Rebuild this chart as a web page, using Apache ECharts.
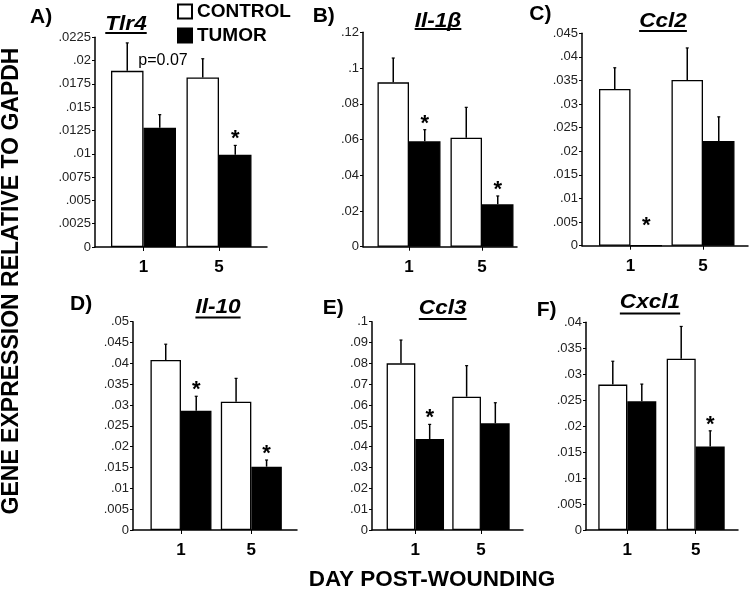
<!DOCTYPE html>
<html>
<head>
<meta charset="utf-8">
<script src="https://cdn.jsdelivr.net/npm/echarts@6/dist/echarts.min.js"></script>
<style>html,body{margin:0;padding:0;background:#fff}#chart{width:750px;height:590px}</style>
</head>
<body>
<div id="chart"></div>
<script>
// ---- data ----
const genes = ['Tlr4', 'Il-1\u03b2', 'Ccl2', 'Il-10', 'Ccl3', 'Cxcl1'];
const panelLetters = ['A)', 'B)', 'C)', 'D)', 'E)', 'F)'];
const days = ['1', '5'];
const seriesNames = ['CONTROL', 'TUMOR'];
const controlMean = [[0.0189, 0.0182], [0.092, 0.061], [0.0332, 0.0351], [0.0408, 0.0308], [0.080, 0.064], [0.028, 0.033]];
const controlErr  = [[0.0030, 0.0020], [0.0136, 0.017], [0.0045, 0.0068], [0.0038, 0.0056], [0.0112, 0.0149], [0.0045, 0.0062]];
const tumorMean   = [[0.0128, 0.0099], [0.059, 0.0237], [0, 0.0222], [0.0286, 0.0152], [0.0437, 0.0512], [0.0248, 0.0161]];
const tumorErr    = [[0.0014, 0.0010], [0.0065, 0.0047], [0, 0.0051], [0.0035, 0.0016], [0.0070, 0.0099], [0.0033, 0.0030]];
const tumorStar   = [[false, true], [true, true], [true, false], [true, true], [true, false], [false, true]];
const yMax  = [0.0225, 0.12, 0.045, 0.05, 0.1, 0.04];
const yStep = [0.0025, 0.02, 0.005, 0.005, 0.01, 0.005];
const yTitle = 'GENE EXPRESSION RELATIVE TO GAPDH';
const xTitle = 'DAY POST-WOUNDING';
const pNote = 'p=0.07';

// ---- layout (pixels) ----
const FONT = "'Liberation Sans', Arial, Helvetica, sans-serif";
const layout = [
  {l: 95,  r: 267, t: 37.3,  b: 247,   il: 105.75, iw: 151,   bw: 32.5, letter: [30, 17.5],  title: [126, 24.5, 32]},
  {l: 363, r: 517, t: 32.3,  b: 246.7, il: 372.5,  iw: 146,   bw: 31.5, letter: [312.7, 16], title: [438, 21.5, 28]},
  {l: 582, r: 748, t: 33.3,  b: 245.7, il: 594.25, iw: 145,   bw: 31.5, letter: [529.3, 14], title: [663, 21.5, 30]},
  {l: 133, r: 297, t: 321.7, b: 530,   il: 145.8,  iw: 140.7, bw: 30.5, letter: [70, 304],   title: [218, 307, 316.5]},
  {l: 372, r: 523, t: 321.7, b: 530,   il: 382.5,  iw: 131.3, bw: 28.7, letter: [322.7, 308],title: [442.7, 308.3, 318]},
  {l: 586, r: 738, t: 322.3, b: 530,   il: 593.1,  iw: 136.8, bw: 29,   letter: [536.7, 310],title: [650, 302.5, 312.5]}
];

const measureCtx = document.createElement('canvas').getContext('2d');
function textWidth(t, font) { measureCtx.font = font; return measureCtx.measureText(t).width; }

function fmt(v) {
  if (v === 0) return '0';
  return (+v.toFixed(6)).toString().replace(/^0\./, '.');
}

const grids = [], xAxes = [], yAxes = [], series = [], graphics = [];
const TITLE_FONT = 'italic bold 20px ' + FONT;
const TITLE_SX = 1.13;

layout.forEach((L, i) => {
  const h = L.b - L.t;
  grids.push({left: L.l, top: L.t, width: L.r - L.l, height: h, containLabel: false});
  grids.push({left: L.il, top: L.t, width: L.iw, height: h, containLabel: false});
  // outer axes
  xAxes.push({gridIndex: 2 * i, type: 'value', min: 0, max: 1,
    axisLine: {show: true, onZero: false, lineStyle: {color: '#000', width: 1.5}},
    axisTick: {show: false}, axisLabel: {show: false}, splitLine: {show: false}});
  yAxes.push({gridIndex: 2 * i, type: 'value', min: 0, max: yMax[i], interval: yStep[i],
    axisLine: {show: true, lineStyle: {color: '#000', width: 1.5}},
    axisTick: {show: true, inside: false, length: 3, lineStyle: {color: '#000', width: 1}},
    axisLabel: {formatter: fmt, fontSize: 13, color: '#222', fontFamily: FONT, margin: 4},
    splitLine: {show: false}});
  // inner axes
  xAxes.push({gridIndex: 2 * i + 1, type: 'category', data: days,
    axisLine: {show: false},
    axisTick: {show: true, alignWithLabel: true, length: 4, lineStyle: {color: '#000', width: 1}},
    axisLabel: {fontSize: 17, fontWeight: 'bold', color: '#000', fontFamily: FONT, margin: 12},
    splitLine: {show: false}});
  yAxes.push({gridIndex: 2 * i + 1, type: 'value', min: 0, max: yMax[i], show: false, splitLine: {show: false}});

  series.push({name: seriesNames[0], type: 'bar', xAxisIndex: 2 * i + 1, yAxisIndex: 2 * i + 1,
    data: controlMean[i], barWidth: L.bw, barGap: '0%',
    itemStyle: {color: '#fff', borderColor: '#000', borderWidth: 1.3}});
  series.push({name: seriesNames[1], type: 'bar', xAxisIndex: 2 * i + 1, yAxisIndex: 2 * i + 1,
    data: tumorMean[i], barWidth: L.bw, barGap: '0%',
    itemStyle: {color: '#000', borderColor: '#000', borderWidth: 1.3}});

  const errData = [];
  days.forEach((d, k) => {
    errData.push([k, controlMean[i][k], controlErr[i][k], 0, -1]);
    errData.push([k, tumorMean[i][k], tumorErr[i][k], tumorStar[i][k] ? 1 : 0, 1]);
  });
  const bw = L.bw;
  series.push({type: 'custom', xAxisIndex: 2 * i + 1, yAxisIndex: 2 * i + 1, z: 5, silent: true,
    data: errData, encode: {x: 0, y: 1},
    renderItem: function (params, api) {
      const k = api.value(0), m = api.value(1), e = api.value(2), star = api.value(3), side = api.value(4);
      const base = api.coord([k, m]);
      const top = api.coord([k, m + e]);
      const x = base[0] + side * bw / 2;
      const children = [];
      if (e > 0) {
        children.push({type: 'line', shape: {x1: x, y1: base[1], x2: x, y2: top[1]},
          style: {stroke: '#000', lineWidth: 1.5}});
        children.push({type: 'line', shape: {x1: x - 1.5, y1: top[1], x2: x + 1.5, y2: top[1]},
          style: {stroke: '#000', lineWidth: 1.2}});
      }
      if (star) {
        const gap = (m === 0) ? 20 : 6;
        children.push({type: 'text', x: x, y: top[1] - gap,
          style: {text: '*', fill: '#000', font: 'bold 22px ' + FONT,
            align: 'center', verticalAlign: 'middle', textAlign: 'center', textVerticalAlign: 'middle'}});
      }
      return {type: 'group', children: children};
    }});

  // panel letter
  graphics.push({type: 'text', x: L.letter[0], y: L.letter[1],
    style: {text: panelLetters[i], fill: '#000', font: 'bold 21px ' + FONT,
      align: 'left', verticalAlign: 'middle', textAlign: 'left', textVerticalAlign: 'middle'}});
  // gene title + underline
  const tw = textWidth(genes[i], TITLE_FONT) * TITLE_SX;
  graphics.push({type: 'text', x: L.title[0], y: L.title[1], scaleX: TITLE_SX,
    style: {text: genes[i], fill: '#000', font: TITLE_FONT,
      align: 'center', verticalAlign: 'middle', textAlign: 'center', textVerticalAlign: 'middle'}});
  graphics.push({type: 'rect', shape: {x: L.title[0] - tw / 2, y: L.title[2], width: tw, height: 2},
    style: {fill: '#000'}});
});

// p-value note in panel A
graphics.push({type: 'text', x: 163, y: 61,
  style: {text: pNote, fill: '#000', font: '16px ' + FONT,
    align: 'center', verticalAlign: 'middle', textAlign: 'center', textVerticalAlign: 'middle'}});
// axis titles
graphics.push({type: 'text', x: 12, y: 281, rotation: Math.PI / 2,
  style: {text: yTitle, fill: '#000', font: 'bold 23px ' + FONT,
    align: 'center', verticalAlign: 'middle', textAlign: 'center', textVerticalAlign: 'middle'}});
graphics.push({type: 'text', x: 432, y: 580,
  style: {text: xTitle, fill: '#000', font: 'bold 22.5px ' + FONT,
    align: 'center', verticalAlign: 'middle', textAlign: 'center', textVerticalAlign: 'middle'}});

const chart = echarts.init(document.getElementById('chart'), null, {renderer: 'canvas'});
chart.setOption({
  animation: false,
  backgroundColor: '#fff',
  legend: {data: seriesNames, orient: 'vertical', left: 177, top: 2, padding: 0,
    icon: 'rect', itemWidth: 14, itemHeight: 14, itemGap: 5,
    textStyle: {fontSize: 19, fontWeight: 'bold', color: '#000', fontFamily: FONT}},
  grid: grids, xAxis: xAxes, yAxis: yAxes, series: series, graphic: graphics
});
</script>
</body>
</html>
